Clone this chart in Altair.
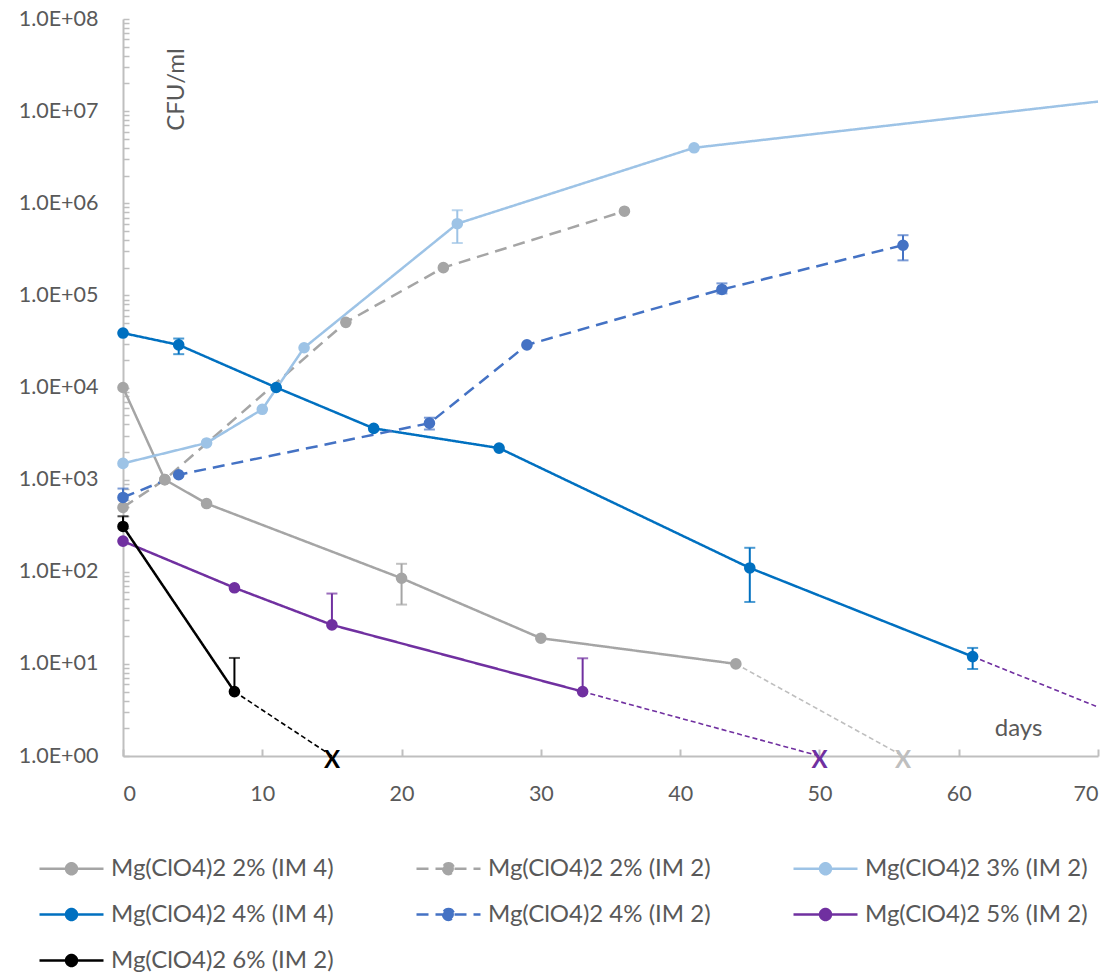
import altair as alt
import pandas as pd

SERIES = ["Mg(ClO4)2 2% (IM 4)", "Mg(ClO4)2 2% (IM 2)", "Mg(ClO4)2 3% (IM 2)",
          "Mg(ClO4)2 4% (IM 4)", "Mg(ClO4)2 4% (IM 2)", "Mg(ClO4)2 5% (IM 2)",
          "Mg(ClO4)2 6% (IM 2)"]

# measured CFU/ml per series
day_2_im4 = [0, 3, 6, 20, 30, 44]
cfu_2_im4 = [1.0e4, 1.0e3, 5.5e2, 85, 19, 10]
day_2_im2 = [0, 3, 16, 23, 36]
cfu_2_im2 = [5.0e2, 1.0e3, 5.1e4, 2.0e5, 8.2e5]
day_3_im2 = [0, 6, 10, 13, 24, 41, 70]
cfu_3_im2 = [1.5e3, 2.5e3, 5.8e3, 2.7e4, 6.0e5, 4.0e6, 1.27e7]
day_4_im4 = [0, 4, 11, 18, 27, 45, 61]
cfu_4_im4 = [3.9e4, 2.9e4, 1.0e4, 3.6e3, 2.2e3, 1.1e2, 12]
day_4_im2 = [0, 4, 22, 29, 43, 56]
cfu_4_im2 = [6.4e2, 1.13e3, 4.1e3, 2.9e4, 1.16e5, 3.5e5]
day_5_im2 = [0, 8, 15, 33]
cfu_5_im2 = [2.15e2, 67, 26.5, 5]
day_6_im2 = [0, 8]
cfu_6_im2 = [3.1e2, 5]

# the 3% curve runs off the right edge: no marker at the edge
unmarked = [("Mg(ClO4)2 3% (IM 2)", 70)]

# dashed extrapolation from each series' last point
ext_series = ["Mg(ClO4)2 2% (IM 4)", "Mg(ClO4)2 5% (IM 2)", "Mg(ClO4)2 6% (IM 2)", "Mg(ClO4)2 4% (IM 4)"]
ext_day = [56, 50, 15, 70]
ext_cfu = [1, 1, 1, 3.4]
ext_dead = [True, True, True, False]

# error bars
err_series = ["Mg(ClO4)2 2% (IM 4)", "Mg(ClO4)2 3% (IM 2)", "Mg(ClO4)2 4% (IM 4)",
              "Mg(ClO4)2 4% (IM 4)", "Mg(ClO4)2 4% (IM 4)", "Mg(ClO4)2 4% (IM 2)",
              "Mg(ClO4)2 4% (IM 2)", "Mg(ClO4)2 4% (IM 2)", "Mg(ClO4)2 4% (IM 2)",
              "Mg(ClO4)2 5% (IM 2)", "Mg(ClO4)2 5% (IM 2)", "Mg(ClO4)2 6% (IM 2)",
              "Mg(ClO4)2 6% (IM 2)"]
err_day = [20, 24, 4, 45, 61, 0, 22, 43, 56, 15, 33, 0, 8]
err_lo = [44, 3.7e5, 2.3e4, 47, 8.8, 6.4e2, 3.5e3, 1.05e5, 2.4e5, 26.5, 5, 3.1e2, 5]
err_hi = [122, 8.4e5, 3.4e4, 182, 14.9, 8.0e2, 4.7e3, 1.35e5, 4.5e5, 58, 11.5, 4.0e2, 11.6]

x_ticks = [0, 10, 20, 30, 40, 50, 60, 70]
y_decades = [1, 1e1, 1e2, 1e3, 1e4, 1e5, 1e6, 1e7, 1e8]

# ---- styles ----
COLORS = ["#A5A5A5", "#A5A5A5", "#9DC3E6", "#0070C0", "#4472C4", "#7030A0", "#000000"]
DASHES = [[1, 0], [12, 7], [1, 0], [1, 0], [12, 7], [1, 0], [1, 0]]
WIDTHS = [2.5, 2.5, 3.4, 2.5, 2.5, 2.5, 2.5]
EXT_COLORS = ["#BFBFBF", "#7030A0", "#000000", "#7030A0"]
TXT = "#595959"
AX = "#BFBFBF"
FONT = "Lato"
W, H = 975, 737

# ---- tables ----
series_data = [
    (SERIES[0], day_2_im4, cfu_2_im4), (SERIES[1], day_2_im2, cfu_2_im2),
    (SERIES[2], day_3_im2, cfu_3_im2), (SERIES[3], day_4_im4, cfu_4_im4),
    (SERIES[4], day_4_im2, cfu_4_im2), (SERIES[5], day_5_im2, cfu_5_im2),
    (SERIES[6], day_6_im2, cfu_6_im2),
]
rows = []
last = {}
for name, ds, cs in series_data:
    for d, c in zip(ds, cs):
        rows.append({"series": name, "day": d, "cfu": c,
                     "marker": (name, d) not in unmarked})
    last[name] = (ds[-1], cs[-1])
df = pd.DataFrame(rows)

ext_keys = [f"ext{i}" for i in range(len(ext_series))]
ext_df = pd.DataFrame({
    "key": ext_keys,
    "day0": [last[s][0] for s in ext_series],
    "cfu0": [last[s][1] for s in ext_series],
    "day1": ext_day, "cfu1": ext_cfu, "dead": ext_dead,
})

val_lookup = {(r["series"], r["day"]): r["cfu"] for r in rows}
err_df = pd.DataFrame({"series": err_series, "day": err_day, "lo": err_lo, "hi": err_hi})
err_df["two"] = [lo < val_lookup[(s, d)] * 0.98 for s, d, lo in zip(err_series, err_day, err_lo)]

minor_ticks = [m * 10 ** k for k in range(8) for m in range(1, 10)] + [1e8]

xscale = alt.Scale(domain=[0, 70], nice=False, zero=False)
yscale = alt.Scale(type="log", domain=[1, 1e8], nice=False)
color_scale = alt.Scale(domain=SERIES, range=COLORS)
dash_scale = alt.Scale(domain=SERIES, range=DASHES)

legend = alt.Legend(
    title=None, orient="none", legendX=-85, legendY=816, columns=3, direction="horizontal",
    symbolType="M-1,0L1,0M-0.17,0A0.17,0.17,0,1,0,0.17,0A0.17,0.17,0,1,0,-0.17,0Z",
    symbolSize=4096, symbolStrokeWidth=2.5,
    symbolFillColor={"expr": "scale('color', datum.value)"},
    labelFont=FONT, labelFontSize=24, labelColor=TXT, labelLimit=500, labelOffset=6,
    columnPadding=77, rowPadding=0, gridAlign="all",
)

main_x_axis = alt.Axis(values=x_ticks, ticks=False, grid=False, domainColor=AX, domainWidth=2,
                       labelFont=FONT, labelFontSize=21.5, labelColor=TXT, labelPadding=27,
                       title="days", titleFont=FONT, titleFontSize=24, titleColor=TXT,
                       titleFontWeight="normal", titleX=895, titleY=-28,
                       titleAlign="center", titleBaseline="middle")
main_y_axis = alt.Axis(values=y_decades, ticks=False, grid=False, domainColor=AX, domainWidth=2,
                       labelFont=FONT, labelFontSize=21.5, labelColor=TXT, labelPadding=25,
                       labelExpr="'1.0E+' + pad(format(log(datum.value)/LN10, '.0f'), 2, '0', 'left')",
                       minExtent=118, maxExtent=118,
                       title="CFU/ml", titleFont=FONT, titleFontSize=24, titleColor=TXT,
                       titleFontWeight="normal", titleAngle=270, titleX=53, titleY=70,
                       titleAlign="center", titleBaseline="middle")
tick_x_axis = alt.Axis(orient="top", offset=-H, values=x_ticks, labels=False, domain=False,
                       grid=False, ticks=True, tickSize=7, tickColor=AX, tickWidth=2, title=None)
tick_y_axis = alt.Axis(orient="right", offset=-W, values=minor_ticks, labels=False, domain=False,
                       grid=False, ticks=True, tickSize=6, tickColor=AX, tickWidth=1.5, title=None)

lines = alt.Chart(df).mark_line().encode(
    x=alt.X("day:Q", scale=xscale, axis=main_x_axis),
    y=alt.Y("cfu:Q", scale=yscale, axis=main_y_axis),
    color=alt.Color("series:N", scale=color_scale, legend=legend),
    strokeDash=alt.StrokeDash("series:N", scale=dash_scale, legend=legend),
    strokeWidth=alt.StrokeWidth("series:N", scale=alt.Scale(domain=SERIES, range=WIDTHS), legend=None),
    order="day:Q",
)

ext = alt.Chart(ext_df).mark_rule(strokeWidth=1.6, strokeDash=[5, 3]).encode(
    x=alt.X("day0:Q", scale=xscale, axis=None),
    y=alt.Y("cfu0:Q", scale=yscale, axis=None),
    x2="day1:Q", y2="cfu1:Q",
    stroke=alt.Stroke("key:N", scale=alt.Scale(domain=ext_keys, range=EXT_COLORS), legend=None),
)

err_rules = alt.Chart(err_df).mark_rule(strokeWidth=2).encode(
    x=alt.X("day:Q", scale=xscale, axis=tick_x_axis),
    y=alt.Y("lo:Q", scale=yscale, axis=tick_y_axis),
    y2="hi:Q",
    color=alt.Color("series:N", legend=None),
)
caps_hi = alt.Chart(err_df).mark_tick(orient="horizontal", size=11, thickness=2).encode(
    x=alt.X("day:Q", scale=xscale, axis=None),
    y=alt.Y("hi:Q", scale=yscale, axis=None),
    color=alt.Color("series:N", legend=None),
)
caps_lo = alt.Chart(err_df).transform_filter("datum.two").mark_tick(
    orient="horizontal", size=11, thickness=2).encode(
    x=alt.X("day:Q", scale=xscale, axis=None),
    y=alt.Y("lo:Q", scale=yscale, axis=None),
    color=alt.Color("series:N", legend=None),
)

points = alt.Chart(df).transform_filter("datum.marker").mark_point(
    filled=True, size=135, opacity=1).encode(
    x=alt.X("day:Q", scale=xscale, axis=None),
    y=alt.Y("cfu:Q", scale=yscale, axis=None),
    color=alt.Color("series:N", legend=None),
)

xmarks = alt.Chart(ext_df).transform_filter("datum.dead").mark_text(
    text="X", font=FONT, fontSize=24, fontWeight="bold", dy=5, baseline="middle", align="center"
).encode(
    x=alt.X("day1:Q", scale=xscale, axis=None),
    y=alt.Y("cfu1:Q", scale=yscale, axis=None),
    fill=alt.Fill("key:N", scale=alt.Scale(domain=ext_keys, range=EXT_COLORS), legend=None),
)

chart = alt.layer(lines, ext, err_rules, caps_hi, caps_lo, points, xmarks).resolve_axis(
    x="independent", y="independent"
).properties(
    width=W, height=H,
    padding={"left": 5, "top": 8, "right": 5, "bottom": 5},
    background="white",
).configure_view(stroke=None)

chart.save("out.html", embed_options={"renderer": "svg", "actions": False})
